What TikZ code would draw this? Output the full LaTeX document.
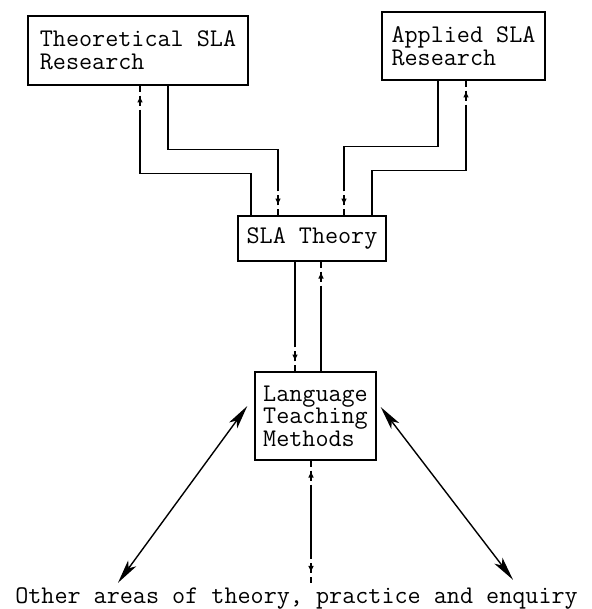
\documentclass[tikz,border=0pt]{standalone}
\usepackage{fontspec}
\usetikzlibrary{arrows.meta,calc,decorations.markings}

\tikzset{
  box/.style={draw, line width=0.7pt, align=left, inner sep=0pt},
  feed/.style={draw, line width=0.7pt,
    dash pattern=on 3pt off 2pt on 5pt off 2pt on 600pt,
    postaction={decorate},
    decoration={markings, mark=at position 5pt with
      {\arrowreversed{Latex[length=3.4pt,width=2.8pt]}}}},
  spoke/.style={line width=0.7pt,
    {Stealth[length=12pt,width=5pt,inset=3pt]}-{Stealth[length=12pt,width=5pt,inset=3pt]}}
}

\begin{document}
\begin{tikzpicture}[x=0.5pt,y=-0.5pt,
    font=\ttfamily\fontsize{12.7pt}{11.3pt}\selectfont]
  \useasboundingbox (0,0) rectangle (591,609);

  % the four boxes
  \node[box, minimum width=110pt, minimum height=34.5pt] (theo) at (138,50.5)
    {Theoretical SLA\\Research};
  \node[box, minimum width=81.5pt, minimum height=34pt] (appl) at (463.5,46)
    {Applied SLA\\Research};
  \node[box, minimum width=74pt, minimum height=22.5pt] (sla) at (312,238.5)
    {SLA Theory};
  \node[box, minimum width=60.5pt, minimum height=44pt] (ltm) at (315.5,416)
    {Language\\Teaching\\Methods};
  \node[anchor=base, inner sep=2pt] (other) at (296.5,603)
    {Other areas of theory, practice and enquiry};

  % research <-> theory
  \draw[feed] ([xshift=-17pt]sla.north) -- ++(0,-66) -| ([xshift=15pt]theo.south);
  \draw[feed] ([xshift=1pt]theo.south) -- ++(0,88) -| ([xshift=-30.5pt]sla.north);
  \draw[feed] ([xshift=16pt]sla.north) -- ++(0,-69) -| ([xshift=-12.75pt]appl.south);
  \draw[feed] ([xshift=1.25pt]appl.south) -- ++(0,90) -| ([xshift=30pt]sla.north);

  % theory <-> methods
  \draw[feed] ([xshift=-10.25pt]ltm.north) -- ([xshift=-8.5pt]sla.south);
  \draw[feed] ([xshift=4.5pt]sla.south) -- ([xshift=2.75pt]ltm.north);

  % methods <-> other areas
  \coordinate (m1) at ([xshift=-2.25pt]ltm.south);
  \coordinate (m2) at ([xshift=7.25pt]other.north);
  \draw[feed] (m1) -- ($(m1)!.5!(m2)$);
  \draw[feed] (m2) -- ($(m1)!.5!(m2)$);
  \draw[spoke] ([shift={(-3.5pt,5pt)}]ltm.west) -- ([xshift=-89.25pt]other.north);
  \draw[spoke] ([shift={(2pt,4.5pt)}]ltm.east) -- ([shift={(108.25pt,1.5pt)}]other.north);
\end{tikzpicture}
\end{document}
